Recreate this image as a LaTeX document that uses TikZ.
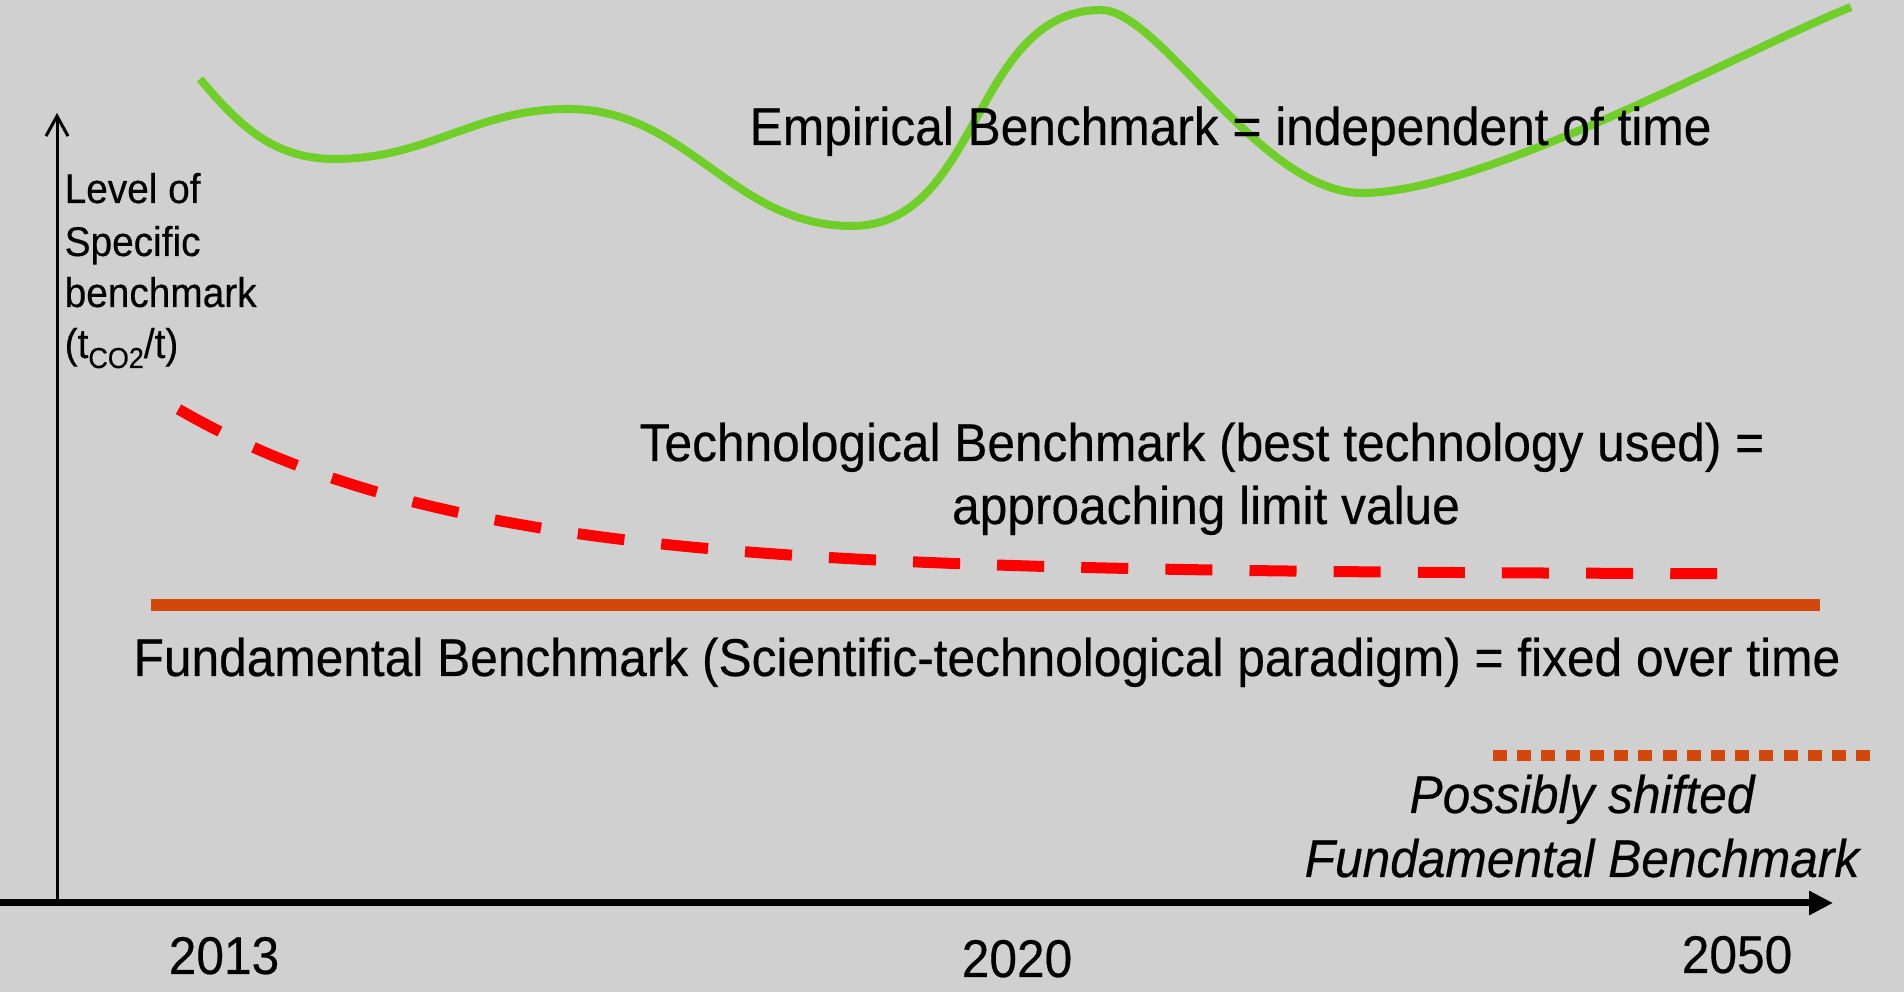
\documentclass[tikz,border=0pt]{standalone}
\usepackage{fontspec}
\setmainfont{Liberation Sans}[FakeStretch=0.935,FakeBold=0.35]
\usetikzlibrary{arrows.meta}
\definecolor{bgc}{RGB}{208,208,208}
\definecolor{grn}{RGB}{112,206,40}
\definecolor{org}{RGB}{209,72,10}
\definecolor{redc}{RGB}{255,0,0}
\begin{document}
\begin{tikzpicture}[x=0.01cm,y=0.01cm,
  lbl/.style={inner sep=0pt, text=black, font=\fontsize{15.1}{18}\selectfont},
  itlbl/.style={inner sep=0pt, text=black, anchor=base, font=\fontsize{15.1}{18}\selectfont\itshape},
  ylbl/.style={inner sep=0pt, text=black, anchor=base west, font=\fontsize{11.8}{14}\selectfont},
  empline/.style={grn, line width=0.08cm},
  techline/.style={redc, line width=0.11cm, dash pattern=on 0.47cm off 0.371cm},
  fundline/.style={org, line width=0.12cm},
  shiftline/.style={org, line width=0.11cm, dash pattern=on 0.14cm off 0.102cm},
  xaxis/.style={black, line width=0.07cm, -{Triangle[length=0.24cm,width=0.23cm]}},
  yaxis/.style={black, line width=0.03cm, -{Straight Barb[length=0.2cm,width=0.22cm]}}]
\fill[bgc] (0,0) rectangle (1904,992);
\useasboundingbox (0,0) rectangle (1904,992);

% empirical benchmark curve
\draw[empline] (200,913) to[out=-50,in=180] (335,833) to[out=0,in=180] (568,883)
  to[out=0,in=180] (852,766) to[out=0,in=180] (1101,982)
  .. controls (1160,982) and (1260,799) .. (1362,799)
  to[out=0,in=202,looseness=0.6] (1851,985);

% technological benchmark
\draw[techline] plot[domain=178.5:1717, samples=90, smooth] (\x, {417.6+165.1*exp(-(\x-178.5)/285.4)});

% fundamental benchmark
\coordinate (fa) at (151,387);
\coordinate (fb) at (1820,387);
\draw[fundline] (fa) -- (fb);

% shifted fundamental benchmark
\coordinate (sa) at (1493,236);
\coordinate (sb) at (1870,236);
\draw[shiftline] (sa) -- (sb);

% axes
\coordinate (xo) at (0,89);
\coordinate (xe) at (1833,89);
\coordinate (yo) at (57,89);
\coordinate (ye) at (57,879);
\draw[yaxis] (yo) -- (ye);
\draw[xaxis] (xo) -- (xe);

% texts
\node[lbl, anchor=base west] (emp) at (749,847) {Empirical Benchmark = independent of time};
\node[lbl, anchor=base] (techa) at (1202,531) {Technological Benchmark (best technology used) =};
\node[lbl, anchor=base] (techb) at (1206,468) {approaching limit value};
\node[lbl, anchor=base] (fund) at (987,316) {Fundamental Benchmark (Scientific-technological paradigm) = fixed over time};
\node[itlbl] (posa) at (1582,179) {Possibly shifted};
\node[itlbl] (posb) at (1582,115) {Fundamental Benchmark};

\node[lbl, anchor=base] (ya) at (224,18) {2013};
\node[lbl, anchor=base] (yb) at (1017,15) {2020};
\node[lbl, anchor=base] (yc) at (1737,19) {2050};

\node[ylbl] (la) at (64,789) {Level of};
\node[ylbl] (lb) at (64,736) {Specific};
\node[ylbl] (lc) at (64,685) {benchmark};
\node[ylbl] (ld) at (64,634) {(t\raisebox{-0.1cm}{\fontsize{8.2}{9}\selectfont CO2}/t)};
\end{tikzpicture}
\end{document}
